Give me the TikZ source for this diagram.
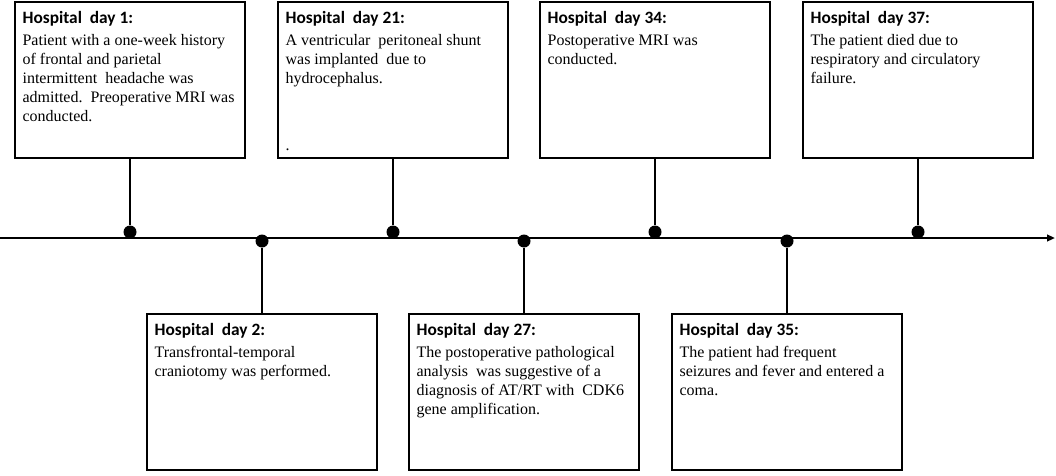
\documentclass[tikz,border=0pt]{standalone}
\usepackage{fontspec}
\setmainfont{Liberation Serif}
\newfontfamily\headfont{Carlito}
\usetikzlibrary{arrows.meta}

\begin{document}
\begin{tikzpicture}[x=0.75pt,y=-0.75pt]
		\tikzset{evbox/.style = {draw, line width=1.5pt, minimum width=172pt, minimum height=117pt, inner sep=0pt}}
		\tikzset{evtext/.style = {anchor=north west, align=left, inner sep=0pt, font=\fontsize{12}{14.25}\selectfont}}
		\tikzset{dot/.style = {circle, fill, inner sep=0pt, minimum size=9.75pt}}
		\tikzset{edge/.style = {line width=1.5pt}}
		\newcommand{\head}[1]{{\headfont\bfseries\fontsize{13}{14}\selectfont #1}\\[2.25pt]}
		
		\useasboundingbox (0,0) rectangle (1056,475);
		
		\node[evbox] (box1)  at ( 130,  80) {};
		\node[evbox] (box2)  at ( 262, 392) {};
		\node[evbox] (box21) at ( 393,  80) {};
		\node[evbox] (box27) at ( 524, 392) {};
		\node[evbox] (box34) at ( 655,  80) {};
		\node[evbox] (box35) at ( 787, 392) {};
		\node[evbox] (box37) at ( 918,  80) {};
		
		\node[dot] (dot1)  at ( 130, 232) {};
		\node[dot] (dot2)  at ( 262, 241) {};
		\node[dot] (dot21) at ( 393, 232) {};
		\node[dot] (dot27) at ( 524, 241) {};
		\node[dot] (dot34) at ( 655, 232) {};
		\node[dot] (dot35) at ( 787, 241) {};
		\node[dot] (dot37) at ( 918, 232) {};
		
		\node[evtext] (text1)  at ([shift={(8,10)}]box1.north west)
			{\head{Hospital\ \ day 1:}Patient with a one-week history\\of frontal and parietal\\intermittent\ \ headache was\\admitted.\ \ Preoperative MRI was\\conducted.};
		\node[evtext] (text2)  at ([shift={(8,10)}]box2.north west)
			{\head{Hospital\ \ day 2:}Transfrontal-temporal\\craniotomy was performed.};
		\node[evtext] (text21) at ([shift={(8,10)}]box21.north west)
			{\head{Hospital\ \ day 21:}A ventricular\ \ peritoneal shunt\\was implanted\ \ due to\\hydrocephalus.};
		\node[evtext] (stop21) at ([shift={(8,-10)}]box21.south west) {.};
		\node[evtext] (text27) at ([shift={(8,10)}]box27.north west)
			{\head{Hospital\ \ day 27:}The postoperative pathological\\analysis\ \ was suggestive of a\\diagnosis of AT/RT with\ \ CDK6\\gene amplification.};
		\node[evtext] (text34) at ([shift={(8,10)}]box34.north west)
			{\head{Hospital\ \ day 34:}Postoperative MRI was\\conducted.};
		\node[evtext] (text35) at ([shift={(8,10)}]box35.north west)
			{\head{Hospital\ \ day 35:}The patient had frequent\\seizures and fever and entered a\\coma.};
		\node[evtext] (text37) at ([shift={(8,10)}]box37.north west)
			{\head{Hospital\ \ day 37:}The patient died due to\\respiratory and circulatory\\failure.};
		
		\coordinate (start) at (   0, 238);
		\coordinate (end)   at (1055, 238);
		\draw[edge, -{Triangle[length=6pt, width=5pt]}] (start) to (end);
		
		\draw[edge] (box1)  to (dot1);
		\draw[edge] (box2)  to (dot2);
		\draw[edge] (box21) to (dot21);
		\draw[edge] (box27) to (dot27);
		\draw[edge] (box34) to (dot34);
		\draw[edge] (box35) to (dot35);
		\draw[edge] (box37) to (dot37);
\end{tikzpicture}
\end{document}
